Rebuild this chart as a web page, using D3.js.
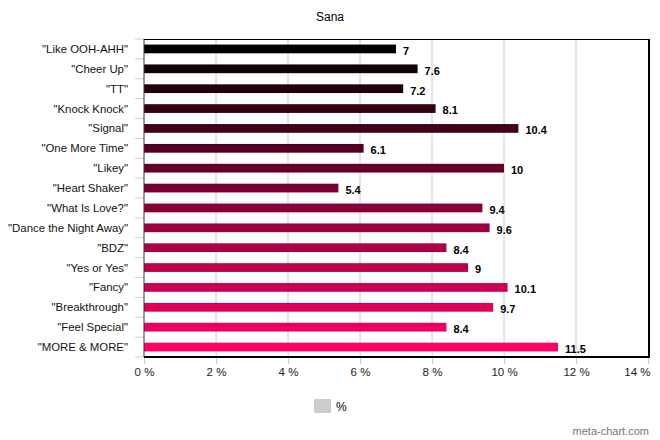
<!DOCTYPE html>
<html>
<head>
<meta charset="utf-8">
<script src="https://cdn.jsdelivr.net/npm/d3@7"></script>
<style>
  body { margin: 0; background: #fff; }
  text { font-family: "Liberation Sans", Arial, sans-serif; }
</style>
</head>
<body>
<div id="chart"></div>
<script>
const songs = ['"Like OOH-AHH"', '"Cheer Up"', '"TT"', '"Knock Knock"', '"Signal"', '"One More Time"',
  '"Likey"', '"Heart Shaker"', '"What Is Love?"', '"Dance the Night Away"', '"BDZ"', '"Yes or Yes"',
  '"Fancy"', '"Breakthrough"', '"Feel Special"', '"MORE & MORE"'];
const percents = [7, 7.6, 7.2, 8.1, 10.4, 6.1, 10, 5.4, 9.4, 9.6, 8.4, 9, 10.1, 9.7, 8.4, 11.5];
const xTicks = [0, 2, 4, 6, 8, 10, 12, 14];

const W = 660, H = 440;
const margin = {top: 39, right: 12, bottom: 83, left: 144};
const width = W - margin.left - margin.right, height = H - margin.top - margin.bottom;

const root = d3.select("#chart").append("svg")
  .attr("width", W).attr("height", H);

root.append("text")
  .attr("x", 330).attr("y", 21)
  .attr("text-anchor", "middle")
  .attr("font-size", 12)
  .text("Sana");

const svg = root.append("g")
  .attr("transform", `translate(${margin.left}, ${margin.top})`);

const xScale = d3.scaleLinear().domain([0, 14]).range([0, width]);
const yScale = d3.scaleBand().domain(songs).range([0, height]).paddingInner(0.56).paddingOuter(0.28);
const color = d3.scaleLinear().domain([0, songs.length - 1]).range(["#000000", "#ff0066"]);

// grid lines
svg.append("g")
  .selectAll("line")
  .data(xTicks.slice(1, -1))
  .join("line")
  .attr("x1", d => xScale(d)).attr("x2", d => xScale(d))
  .attr("y1", 0).attr("y2", height)
  .attr("stroke", "#cccccc");

// x axis
const xAxis = d3.axisBottom(xScale).tickValues(xTicks).tickSize(7).tickPadding(4).tickFormat(d => d + " %");
const gx = svg.append("g")
  .attr("transform", `translate(0, ${height})`)
  .call(xAxis);
gx.select(".domain").remove();
gx.selectAll(".tick line").attr("stroke", "#cccccc");
gx.selectAll(".tick text").attr("font-size", 11.5).attr("fill", "#222").attr("font-family", null);
gx.selectAll(".tick text").filter(d => d === 14).attr("text-anchor", "end").attr("dx", 2);

// y axis
const step = yScale.step();
svg.append("g")
  .selectAll("line")
  .data(d3.range(songs.length + 1))
  .join("line")
  .attr("x1", -9).attr("x2", 0)
  .attr("y1", i => i * step).attr("y2", i => i * step)
  .attr("stroke", "#c8d0d8");

svg.append("g")
  .selectAll("text")
  .data(songs)
  .join("text")
  .attr("x", -16)
  .attr("y", d => yScale(d) + yScale.bandwidth() / 2)
  .attr("dy", "0.35em")
  .attr("text-anchor", "end")
  .attr("font-size", 11.4)
  .attr("fill", "#111")
  .text(d => d);

// bars
svg.append("g")
  .selectAll("rect")
  .data(percents)
  .join("rect")
  .attr("x", 0)
  .attr("y", (d, i) => yScale(songs[i]))
  .attr("width", d => xScale(d))
  .attr("height", yScale.bandwidth())
  .attr("fill", (d, i) => color(i));

// value labels
svg.append("g")
  .selectAll("text")
  .data(percents)
  .join("text")
  .attr("x", d => xScale(d) + 7)
  .attr("y", (d, i) => yScale(songs[i]) + yScale.bandwidth() / 2 + 2)
  .attr("dy", "0.35em")
  .attr("font-size", 11)
  .attr("font-weight", "bold")
  .text(d => d);

// frame
svg.append("line").attr("x1", 0).attr("x2", 0).attr("y1", 0).attr("y2", height).attr("stroke", "#333").attr("stroke-width", 1);
svg.append("line").attr("x1", 0).attr("x2", width).attr("y1", 0.5).attr("y2", 0.5).attr("stroke", "#000").attr("stroke-width", 1);
svg.append("line").attr("x1", width + 1).attr("x2", width + 1).attr("y1", 0).attr("y2", height).attr("stroke", "#000").attr("stroke-width", 2);
svg.append("line").attr("x1", 0).attr("x2", width + 2).attr("y1", height).attr("y2", height).attr("stroke", "#000").attr("stroke-width", 2);

// legend
const legend = root.append("g").attr("transform", "translate(314, 399)");
legend.append("rect").attr("width", 17).attr("height", 14).attr("fill", "#cccccc");
legend.append("text").attr("x", 22).attr("y", 12).attr("font-size", 12).text("%");

// watermark
root.append("text")
  .attr("x", 649).attr("y", 435)
  .attr("text-anchor", "end")
  .attr("font-size", 11)
  .attr("fill", "#777")
  .text("meta-chart.com");
</script>
</body>
</html>
